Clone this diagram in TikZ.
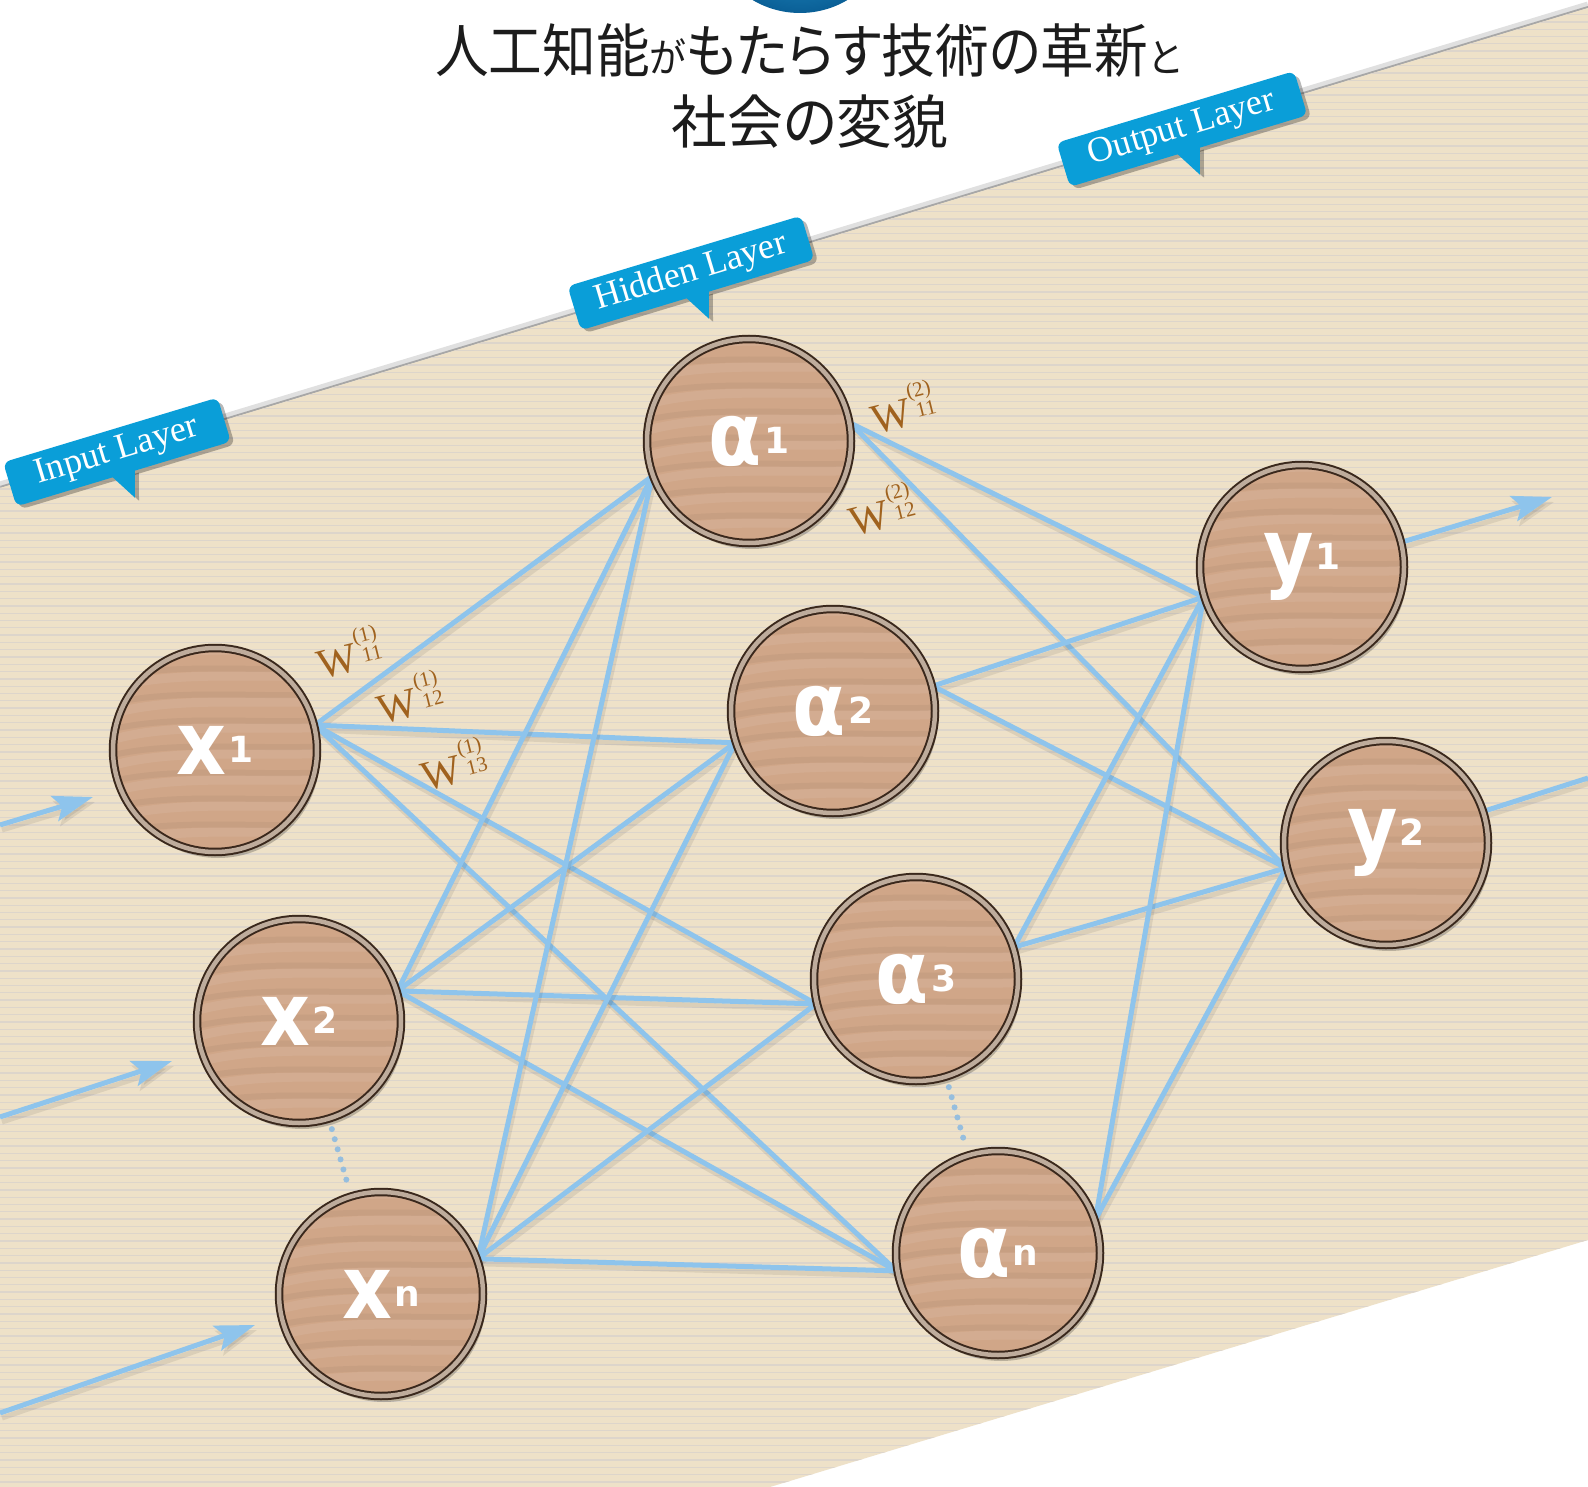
\documentclass[tikz,border=0pt]{standalone}
\usepackage{fontspec}
\usetikzlibrary{arrows.meta}
\newfontfamily\jpfont[RawFeature=+palt]{Noto Sans CJK JP}
\newfontfamily\labfont{DejaVu Sans}
\newfontfamily\serfont{Liberation Serif}
\pgfdeclarelayer{bg}
\pgfdeclarelayer{edges}
\pgfsetlayers{bg,edges,main}
\definecolor{beige}{RGB}{238,225,200}
\definecolor{stripec}{RGB}{221,213,203}
\definecolor{edgeblue}{RGB}{142,196,236}
\definecolor{dotblue}{RGB}{150,190,222}
\definecolor{nfill}{RGB}{208,166,136}
\definecolor{rimdark}{RGB}{58,40,28}
\definecolor{rimlight}{RGB}{190,172,156}
\definecolor{wbrown}{RGB}{160,98,30}
\definecolor{bubblec}{RGB}{10,158,216}
\definecolor{titlec}{RGB}{28,28,28}
\definecolor{globeA}{RGB}{50,170,225}
\definecolor{globeB}{RGB}{10,95,150}
\newcommand{\nlab}[2]{\scalebox{0.88}[1]{#1}\kern2pt\raisebox{12pt}{\fontsize{36}{36}\selectfont #2}}
\newcommand{\wlab}[2]{W\kern1pt\rlap{\raisebox{27pt}{\fontsize{21}{21}\selectfont(#1)}}\raisebox{6pt}{\kern5pt\fontsize{21}{21}\selectfont #2}}
\newcommand{\layerbubble}[5]{%
\begin{scope}[shift={(#2,#3)}, rotate=16.8]
\fill[black, opacity=.28, rounded corners=7pt] (-#4+3,-27) rectangle (#4+3,19);
\fill[black, opacity=.28] (-9,-26) -- (15,-26) -- (7,-53) -- cycle;
\fill[bubblec, rounded corners=7pt] (-#4,-23) rectangle (#4,23);
\fill[bubblec] (-12,-22) -- (12,-22) -- (4,-49) -- cycle;
\node[bubbletext] (#1) at (0,0) {#5};
\end{scope}}
\tikzset{
  neuron/.style={circle, minimum size=204pt, inner sep=0pt, fill=nfill,
    draw=rimdark, line width=2pt, double=rimlight, double distance=4.5pt,
    text=white, font=\labfont\bfseries\fontsize{88}{88}\selectfont,
    preaction={fill=black, opacity=.22, transform canvas={shift={(3pt,-6pt)}}},
    path picture={
      \foreach \k in {-4,...,4}{
        \draw[white, opacity=.08, line width=9pt]
          ([shift={(-130pt,\k*26pt)}]path picture bounding box.center)
          .. controls +(70pt,35pt) and +(-70pt,-10pt) .. +(260pt,25pt);
        \draw[black, opacity=.04, line width=6pt]
          ([shift={(-130pt,\k*26pt+12pt)}]path picture bounding box.center)
          .. controls +(70pt,30pt) and +(-70pt,-10pt) .. +(260pt,20pt);
      }}},
  wire/.style={draw=edgeblue, line width=5pt,
    preaction={draw=black, opacity=.08, line width=5pt, transform canvas={shift={(2pt,-5pt)}}}},
  inarrow/.style={wire, -{Stealth[length=40pt,width=26pt,inset=8pt]}},
  dotline/.style={draw=dotblue, line width=6pt, line cap=round, dash pattern=on 0pt off 10.5pt, shorten <=10pt, shorten >=10pt},
  wl/.style={text=wbrown, rotate=14, inner sep=0pt, font=\serfont\fontsize{42}{42}\selectfont},
  bubbletext/.style={text=white, transform shape, inner sep=0pt, font=\serfont\fontsize{36}{36}\selectfont},
  titletext/.style={font=\jpfont\fontsize{58}{58}\selectfont, text=titlec, inner sep=0pt, anchor=base}
}
\begin{document}
\begin{tikzpicture}[x=1pt,y=1pt]
\useasboundingbox (0,0) rectangle (1588,-1487);
\begin{pgfonlayer}{bg}
\fill[white] (0,0) rectangle (1588,-1487);
\shade[inner color=globeA, outer color=globeB] (800,80) circle (93);
\draw[black, opacity=.12, line width=7pt] (0,-485) -- (1588,-5);
\draw[black, opacity=.25, line width=2pt] (0,-487) -- (1588,-7);
\fill[beige] (0,-488) -- (1588,-8) -- (1588,-1240) -- (770,-1487) -- (0,-1487) -- cycle;
\begin{scope}
\clip (0,-488) -- (1588,-8) -- (1588,-1240) -- (770,-1487) -- (0,-1487) -- cycle;
\foreach \i in {0,...,204} \draw[stripec, line width=1.3pt] (0,-\i*7.3) -- (1588,-\i*7.3);
\end{scope}
\end{pgfonlayer}

% title
\node[titletext] (t1) at (808,-73) {\scalebox{0.925}[1]{人工知能{\fontsize{40}{40}\selectfont が}もたらす技術の革新{\fontsize{40}{40}\selectfont と}}};
\node[titletext] (t2) at (810,-144) {\scalebox{0.96}[1]{社会の変貌}};

% neurons
\node[neuron] (x1) at (215,-750) {\nlab{x}{1}};
\node[neuron] (x2) at (299,-1021) {\nlab{x}{2}};
\node[neuron] (xn) at (381,-1294) {\nlab{x}{n}};
\node[neuron] (a1) at (749,-441) {\nlab{α}{1}};
\node[neuron] (a2) at (833,-711) {\nlab{α}{2}};
\node[neuron] (a3) at (916,-979) {\nlab{α}{3}};
\node[neuron] (an) at (998,-1253) {\nlab{α}{n}};
\node[neuron] (y1) at (1302,-567) {\nlab{y}{1}};
\node[neuron] (y2) at (1386,-843) {\nlab{y}{2}};

% free ends
\coordinate (i1) at (0,-825);   \coordinate (t1i) at (93,-797);
\coordinate (i2) at (0,-1117);  \coordinate (t2i) at (172,-1061);
\coordinate (i3) at (0,-1413);  \coordinate (t3i) at (255,-1325);
\coordinate (o1) at (1552,-497);
\coordinate (o2) at (1588,-778);

\begin{pgfonlayer}{edges}
\foreach \s/\sa in {x1/14, x2/17, xn/20}
  \foreach \t/\ta in {a1/200, a2/198, a3/194, an/190}
    \draw[wire] (\s.\sa) -- (\t.\ta);
\foreach \s/\sa in {a1/10, a2/14, a3/18, an/19}
  \foreach \t/\ta in {y1/197, y2/194}
    \draw[wire] (\s.\sa) -- (\t.\ta);
\draw[inarrow] (i1) -- (t1i);
\draw[inarrow] (i2) -- (t2i);
\draw[inarrow] (i3) -- (t3i);
\draw[inarrow] (y1.14) -- (o1);
\draw[wire] (y2.18) -- (o2);
\draw[dotline] (x2.-73) -- (xn.107);
\draw[dotline] (a3.-73) -- (an.107);
\end{pgfonlayer}

% weights
\node[wl] (w1a) at (348,-652) {\wlab{1}{11}};
\node[wl] (w1b) at (409,-697) {\wlab{1}{12}};
\node[wl] (w1c) at (453,-764) {\wlab{1}{13}};
\node[wl] (w2a) at (902,-407) {\wlab{2}{11}};
\node[wl] (w2b) at (881,-509) {\wlab{2}{12}};

% layer bubbles
\layerbubble{lin}{117}{-452}{112}{Input Layer}
\layerbubble{lhid}{691}{-273}{122}{Hidden Layer}
\layerbubble{lout}{1182}{-129}{124}{Output Layer}
\end{tikzpicture}
\end{document}
